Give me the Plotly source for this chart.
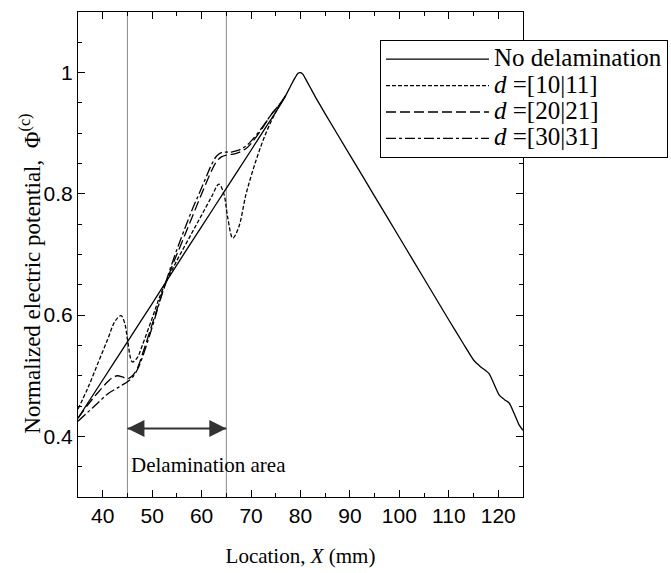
import plotly.graph_objects as go

# ---- data ----
x_solid = [35, 40, 45, 50, 55, 60, 65, 70, 73, 75, 76, 77, 78, 79, 79.5, 80, 80.5, 81, 82, 83,
           85, 90, 95, 100, 105, 110, 113, 115, 116.4, 118.1, 120.2, 121.2, 122.2, 123.2, 124.2, 125]
y_solid = [0.430, 0.493, 0.556, 0.619, 0.683, 0.746, 0.809, 0.872, 0.910, 0.935, 0.948, 0.962, 0.978,
           0.993, 0.999, 1.000, 0.997, 0.990, 0.975, 0.960,
           0.932, 0.864, 0.796, 0.728, 0.660, 0.592, 0.552, 0.526, 0.515, 0.504, 0.468, 0.461, 0.455,
           0.438, 0.419, 0.410]

x_d10 = [35, 37, 39, 41, 42.5, 43.7, 44.5, 45, 46, 47, 48, 50, 52, 55, 58, 60, 62, 63.5, 64.5,
         65.3, 66.3, 67.5, 69, 71, 73, 75, 77]
y_d10 = [0.445, 0.48, 0.52, 0.56, 0.59, 0.599, 0.585, 0.56, 0.523, 0.53, 0.55, 0.595, 0.64, 0.69,
         0.735, 0.765, 0.795, 0.816, 0.80, 0.76, 0.727, 0.745, 0.80, 0.855, 0.90, 0.935, 0.962]

x_d20 = [35, 37, 39, 41, 42, 43, 44, 45, 46, 47, 48, 50, 52, 54, 56, 58, 60, 62, 63, 64, 65, 66,
         67, 68, 69, 70, 72, 74, 76, 77]
y_d20 = [0.43, 0.452, 0.472, 0.49, 0.497, 0.50, 0.498, 0.495, 0.50, 0.512, 0.535, 0.585, 0.635,
         0.68, 0.72, 0.76, 0.80, 0.838, 0.853, 0.861, 0.864, 0.865, 0.867, 0.87, 0.875, 0.883,
         0.905, 0.93, 0.95, 0.962]

x_d30 = [35, 37, 39, 41, 43, 44, 45, 46, 47, 48, 50, 52, 54, 56, 58, 60, 62, 63, 64, 65, 66, 67,
         68, 69, 70, 72, 74, 76, 77]
y_d30 = [0.425, 0.44, 0.455, 0.47, 0.48, 0.485, 0.49, 0.497, 0.51, 0.53, 0.58, 0.635, 0.685,
         0.73, 0.772, 0.81, 0.848, 0.862, 0.868, 0.869, 0.869, 0.871, 0.874, 0.879, 0.887,
         0.907, 0.93, 0.95, 0.962]

names = ["No delamination", "<i>d</i> =[10|11]", "<i>d</i> =[20|21]", "<i>d</i> =[30|31]"]
x_ticks = [40, 50, 60, 70, 80, 90, 100, 110, 120]
y_ticks = [0.4, 0.6, 0.8, 1.0]
y_ticktext = ["0.4", "0.6", "0.8", "1"]
delam_x = [45, 65]
arrow_y = 0.413
label_xy = (45.3, 0.353)

serif = "Liberation Serif"
sans = "Liberation Sans"

fig = go.Figure()
line_styles = [None, "4px,2px", "10px,4px", "10px,3px,3px,3px"]
series = [(x_solid, y_solid), (x_d10, y_d10), (x_d20, y_d20), (x_d30, y_d30)]
for (xs, ys), nm, dash in zip(series, names, line_styles):
    ln = dict(color="black", width=1.3, shape="spline", smoothing=0.6 if dash is None else 1)
    if dash:
        ln["dash"] = dash
    fig.add_trace(go.Scatter(x=xs, y=ys, mode="lines",
                             name=f'<span style="font-size:25px">{nm}</span>', line=ln))

for xv in delam_x:
    fig.add_shape(type="line", xref="x", yref="paper", x0=xv, x1=xv, y0=0, y1=1,
                  line=dict(color="#8a8a8a", width=1), layer="below")

# double-headed arrow marking the delamination area
fig.add_trace(go.Scatter(x=delam_x, y=[arrow_y] * 2, mode="lines+markers", showlegend=False,
                         hoverinfo="skip",
                         line=dict(color="#333333", width=1.8),
                         marker=dict(symbol=["arrow-left", "arrow-right"], size=17,
                                     color="#333333", line=dict(width=0))))

fig.add_annotation(x=label_xy[0], y=label_xy[1], xref="x", yref="y", text="Delamination area",
                   showarrow=False, xanchor="left", yanchor="middle",
                   font=dict(family=serif, size=21, color="black"))

# y-axis title
fig.add_annotation(x=-0.106, y=0.46, xref="paper", yref="paper", textangle=-90,
                   text="Normalized electric potential,  Φ<sup>(c)</sup>", showarrow=False,
                   xanchor="center", yanchor="middle",
                   font=dict(family=serif, size=23, color="black"))

axis_common = dict(showline=True, linecolor="black", linewidth=1, mirror="ticks",
                   ticks="inside", ticklen=7, tickcolor="black", showgrid=False, zeroline=False)

fig.update_xaxes(range=[35, 125], tickvals=x_ticks, tickfont=dict(family=sans, size=21, color="black"),
                 minor=dict(dtick=5, tick0=35, ticks="inside", ticklen=4, tickcolor="black"),
                 title=dict(text="Location, <i>X</i> (mm)", font=dict(family=serif, size=21, color="black"),
                            standoff=22),
                 **axis_common)
fig.update_yaxes(range=[0.3, 1.1], tickvals=y_ticks, ticktext=y_ticktext,
                 tickfont=dict(family=sans, size=21, color="black"),
                 minor=dict(dtick=0.05, tick0=0.3, ticks="inside", ticklen=4, tickcolor="black"),
                 **axis_common)

fig.update_layout(
    width=671, height=573,
    margin=dict(l=78, r=148, t=12, b=76, autoexpand=False),
    paper_bgcolor="white", plot_bgcolor="white",
    showlegend=True,
    legend=dict(x=(380 - 78) / 445, y=(497 - 40) / 485, xanchor="left", yanchor="top",
                bgcolor="white", bordercolor="black", borderwidth=1,
                font=dict(family=serif, size=18, color="black"),
                itemwidth=103, tracegroupgap=0),
)

fig.write_html("out.html")
